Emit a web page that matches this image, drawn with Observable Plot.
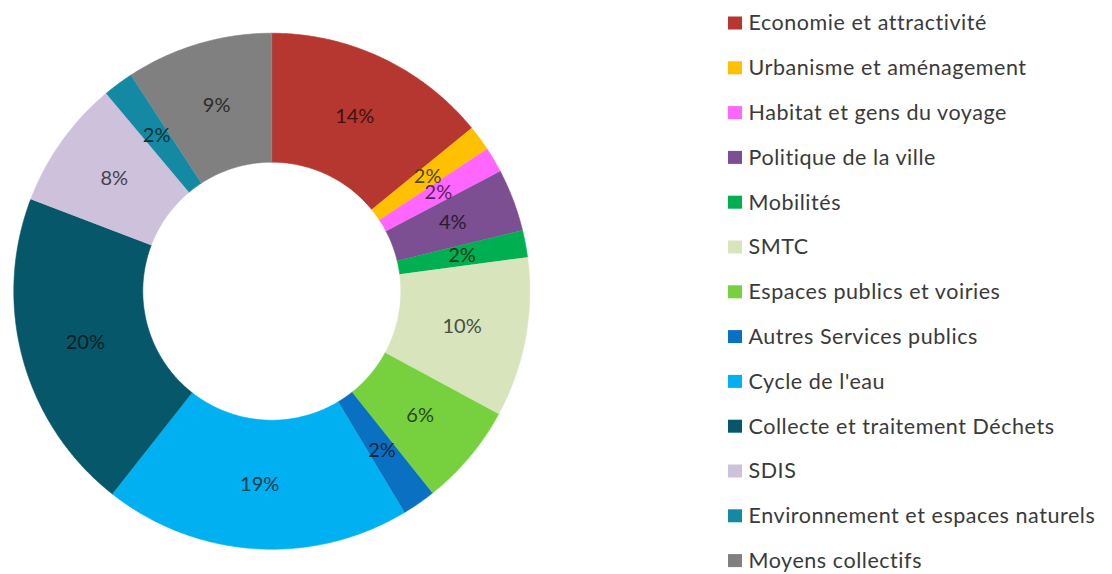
<!DOCTYPE html>
<html>
<head>
<meta charset="utf-8">
<script src="https://cdn.jsdelivr.net/npm/d3@7"></script>
<script src="https://cdn.jsdelivr.net/npm/@observablehq/plot@0.6"></script>
<style>
  body { margin: 0; background: #ffffff; }
  #chart svg { display: block; }
</style>
</head>
<body>
<div id="chart"></div>
<script>
// ---- Data ----
const categories = [
  "Economie et attractivité",
  "Urbanisme et aménagement",
  "Habitat et gens du voyage",
  "Politique de la ville",
  "Mobilités",
  "SMTC",
  "Espaces publics et voiries",
  "Autres Services publics",
  "Cycle de l'eau",
  "Collecte et traitement Déchets",
  "SDIS",
  "Environnement et espaces naturels",
  "Moyens collectifs"
];
const values = [14.1, 1.6, 1.6, 3.9, 1.7, 10.0, 6.4, 2.1, 19.2, 20.2, 8.1, 1.9, 9.2];
const labels = ["14%", "2%", "2%", "4%", "2%", "10%", "6%", "2%", "19%", "20%", "8%", "2%", "9%"];
const colors = [
  "#b5372f", "#ffc000", "#ff66ff", "#7b4f91", "#00b050", "#d8e4bc", "#77d13f",
  "#0a70c2", "#00b0f0", "#06576a", "#cdc1dc", "#1389a3", "#808080"
];

// ---- Layout ----
const W = 1112, H = 574;
const cx = 271.3, cy = 290.7, R = 258, r0 = 129;
const legendSquareX = 728, legendTextX = 748, legendTop = 23, legendStep = 44.8;
const font = "Lato, 'Open Sans', sans-serif";

const rows = categories.map((name, i) => ({name, value: values[i], label: labels[i], color: colors[i], i}));
const arcs = d3.pie().sort(null).value(d => d.value)(rows);

// polygon points for each slice (outer arc forward, inner arc back)
const pts = [];
for (const a of arcs) {
  const n = Math.max(4, Math.ceil((a.endAngle - a.startAngle) / 0.008));
  for (let k = 0; k <= n; k++) {
    const t = a.startAngle + (a.endAngle - a.startAngle) * k / n;
    pts.push({name: a.data.name, x: cx + R * Math.sin(t), y: cy - R * Math.cos(t)});
  }
  for (let k = n; k >= 0; k--) {
    const t = a.startAngle + (a.endAngle - a.startAngle) * k / n;
    pts.push({name: a.data.name, x: cx + r0 * Math.sin(t), y: cy - r0 * Math.cos(t)});
  }
}

const rm = (R + r0) / 2;
const labelMarks = arcs.map(a => {
  const m = (a.startAngle + a.endAngle) / 2;
  return Plot.text([a.data], {
    x: () => cx + rm * Math.sin(m),
    y: () => cy - rm * Math.cos(m),
    text: "label",
    fill: d3.color(a.data.color).darker(3).formatHex(),
    fontSize: 20,
    fontFamily: font
  });
});

const chart = Plot.plot({
  width: W,
  height: H,
  margin: 0,
  x: {domain: [0, W], range: [0, W], axis: null},
  y: {domain: [0, H], range: [0, H], axis: null},
  color: {domain: categories, range: colors},
  style: {fontFamily: font, background: "#ffffff"},
  marks: [
    Plot.line(pts, {x: "x", y: "y", z: "name", fill: "name", stroke: "name", strokeWidth: 0.6, curve: "linear"}),
    ...labelMarks,
    Plot.rect(rows, {
      x1: () => legendSquareX, x2: () => legendSquareX + 14,
      y1: d => legendTop + d.i * legendStep - 6.5,
      y2: d => legendTop + d.i * legendStep + 6.5,
      fill: "name"
    }),
    Plot.text(rows, {
      x: () => legendTextX,
      y: d => legendTop + d.i * legendStep,
      text: "name",
      textAnchor: "start",
      fontSize: 21.5,
      fill: "#3a3a3a",
      fontFamily: font,
      render: (index, scales, values, dims, ctx, next) => {
        const g = next(index, scales, values, dims, ctx);
        g.setAttribute("letter-spacing", "0.55px");
        return g;
      }
    })
  ]
});
document.getElementById("chart").appendChild(chart);
</script>
</body>
</html>
